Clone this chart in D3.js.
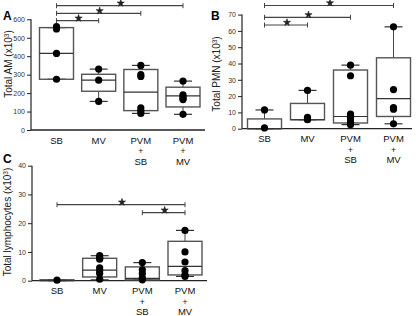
<!DOCTYPE html>
<html><head><meta charset="utf-8">
<script src="https://cdn.jsdelivr.net/npm/d3@7"></script>
<style>
body{margin:0;background:#fff;}
svg{display:block;font-family:"Liberation Sans",Arial,sans-serif;}
</style></head>
<body><svg id="c" width="416" height="316"></svg>
<script>
// ---- data ----
const categories = ["SB", "MV", "PVM+SB", "PVM+MV"];
const categoryLabels = [["SB"], ["MV"], ["PVM", "+", "SB"], ["PVM", "+", "MV"]];

// Panel A: total AM (x10^3)
const amPoints = [[560, 548, 415, 275], [330, 270, 155], [350, 300, 290, 120, 105, 90], [265, 190, 180, 170, 165, 85]];
const amBox = [[275, 415, 555], [210, 270, 302], [105, 205, 328], [125, 185, 232]];
const amWhisker = [[275, 555], [155, 330], [90, 350], [85, 265]];
const amTicks = [0, 100, 200, 300, 400, 500, 600];
const amSig = [["SB", "MV"], ["SB", "PVM+SB"], ["SB", "PVM+MV"]];

// Panel B: total PMN (x10^3)
const pmnPoints = [[11.5, 0.5], [23.5, 7, 6, 5.5], [39, 32.5, 9, 8, 7, 6, 4, 3, 2.5], [62.5, 24, 13, 12, 3]];
const pmnBox = [[0, 0, 6], [5.5, 5.5, 15.5], [3.5, 7.5, 36], [7.5, 18.5, 43.5]];
const pmnWhisker = [[0, 11.5], [5.5, 23.5], [2.5, 39], [3, 62.5]];
const pmnTicks = [0, 10, 20, 30, 40, 50, 60, 70];
const pmnSig = [["SB", "MV"], ["SB", "PVM+SB"], ["SB", "PVM+MV"]];

// Panel C: total lymphocytes (x10^3)
const lymPoints = [[0.2], [8.7, 8, 7.5, 4.5, 3.5, 2.5, 0.5], [6.3, 3.8, 2.5, 1, 0.3], [17.5, 10, 6.5, 3.5, 2, 1.5]];
const lymBox = [[0, 0.1, 0.3], [1.3, 3.7, 7.8], [0.3, 0.8, 4.8], [2, 5, 13.7]];
const lymWhisker = [[0, 0.3], [0.3, 8.7], [0.3, 6.3], [1.5, 17.5]];
const lymTicks = [0, 10, 20, 30, 40];
const lymSig = [["PVM+SB", "PVM+MV"], ["SB", "PVM+MV"]];

// ---- drawing ----
const svg = d3.select("#c");
const starPath = d3.symbol().type(d3.symbolStar).size(16)();

function panel(o) {
  const g = svg.append("g");
  const y = d3.scaleLinear().domain([0, o.ymax]).range([o.y0, o.yTop]);
  const x = d3.scalePoint().domain(categories).range([o.xFirst, o.xLast]);

  // y axis
  const ax = g.append("g").attr("transform", `translate(${o.axisX},0)`)
    .call(d3.axisLeft(y).tickValues(o.ticks).tickSize(4).tickPadding(2));
  ax.select(".domain").attr("stroke", "#222").attr("stroke-width", 1.2).attr("d", `M0,${o.y0}V${o.yTop}`);
  ax.selectAll(".tick line").attr("stroke", "#222");
  ax.selectAll(".tick text").attr("font-size", 7).attr("fill", "#333")
    .attr("font-family", "Liberation Sans, Arial, sans-serif");

  // x axis baseline
  g.append("line").attr("x1", o.axisX).attr("x2", o.axisEnd).attr("y1", o.y0).attr("y2", o.y0)
    .attr("stroke", "#222").attr("stroke-width", 1.3);

  // category labels
  categories.forEach((c, i) => {
    categoryLabels[i].forEach((t, j) => {
      g.append("text").attr("x", x(c)).attr("y", o.y0 + 13.5 + j * 10.5)
        .attr("text-anchor", "middle").attr("font-size", t === "+" ? 8.5 : 9.5).attr("fill", "#111").text(t);
    });
  });

  const bw = 34, cw = 16;
  categories.forEach((c, i) => {
    const cx = x(c);
    const [q1, md, q3] = o.box[i];
    const [wl, wh] = o.whisker[i];
    // whiskers
    g.append("line").attr("x1", cx).attr("x2", cx).attr("y1", y(q3)).attr("y2", y(wh)).attr("stroke", "#444");
    g.append("line").attr("x1", cx).attr("x2", cx).attr("y1", y(q1)).attr("y2", y(wl)).attr("stroke", "#444");
    [wl, wh].forEach(v => g.append("line").attr("x1", cx - cw / 2 - 1).attr("x2", cx + cw / 2 + 1)
      .attr("y1", y(v)).attr("y2", y(v)).attr("stroke", "#333").attr("stroke-width", 1.2));
    // box
    g.append("rect").attr("x", cx - bw / 2).attr("width", bw).attr("y", y(q3)).attr("height", y(q1) - y(q3))
      .attr("fill", "none").attr("stroke", "#555").attr("stroke-width", 1.4);
    g.append("line").attr("x1", cx - bw / 2).attr("x2", cx + bw / 2).attr("y1", y(md)).attr("y2", y(md))
      .attr("stroke", "#333").attr("stroke-width", 1.2);
    // points
    g.selectAll(null).data(o.points[i]).enter().append("circle")
      .attr("cx", cx).attr("cy", d => y(d)).attr("r", 3.6).attr("fill", "#000");
  });

  // significance bars
  o.sig.forEach((p, k) => {
    const x1 = x(p[0]), x2 = x(p[1]);
    const yy = o.sigY[k];
    g.append("line").attr("x1", x1).attr("x2", x2).attr("y1", yy).attr("y2", yy).attr("stroke", "#444").attr("stroke-width", 1.2);
    [x1, x2].forEach(xx => g.append("line").attr("x1", xx).attr("x2", xx).attr("y1", yy - 2.5).attr("y2", yy + 2.5).attr("stroke", "#444"));
    g.append("path").attr("d", starPath).attr("transform", `translate(${(x1 + x2) / 2 + 1},${yy - 2.5})`)
      .attr("fill", "#222").attr("stroke", "#222").attr("stroke-width", 0.6);
  });

  // y label
  const lab = g.append("text").attr("transform", `translate(${o.labX},${o.labY}) rotate(-90)`)
    .attr("text-anchor", "middle").attr("font-size", 10).attr("fill", "#222");
  lab.append("tspan").text(o.label + " (x10");
  lab.append("tspan").attr("dy", -3.5).attr("font-size", 6.5).text("3");
  lab.append("tspan").attr("dy", 3.5).text(")");

  // panel letter
  g.append("text").attr("x", o.letterX).attr("y", o.letterY).attr("font-size", 12)
    .attr("font-weight", "bold").attr("fill", "#000").text(o.letter);
}

panel({ letter: "A", letterX: 3, letterY: 20, label: "Total AM", labX: 12, labY: 64,
  ymax: 600, y0: 130, yTop: 19.3, axisX: 31, axisEnd: 205, xFirst: 56.5, xLast: 183,
  ticks: amTicks, points: amPoints, box: amBox, whisker: amWhisker, sig: amSig, sigY: [20.7, 13.3, 5.7] });

panel({ letter: "B", letterX: 211, letterY: 20, label: "Total PMN", labX: 220, labY: 74,
  ymax: 70, y0: 128.7, yTop: 14.6, axisX: 242, axisEnd: 412, xFirst: 264.5, xLast: 393.5,
  ticks: pmnTicks, points: pmnPoints, box: pmnBox, whisker: pmnWhisker, sig: pmnSig, sigY: [25, 17.3, 5.5] });

panel({ letter: "C", letterX: 3, letterY: 163, label: "Total lymphocytes", labX: 11, labY: 222,
  ymax: 40, y0: 280.7, yTop: 165.7, axisX: 32, axisEnd: 207, xFirst: 57, xLast: 185,
  ticks: lymTicks, points: lymPoints, box: lymBox, whisker: lymWhisker, sig: lymSig, sigY: [212.7, 204.7] });
</script>
</body></html>
